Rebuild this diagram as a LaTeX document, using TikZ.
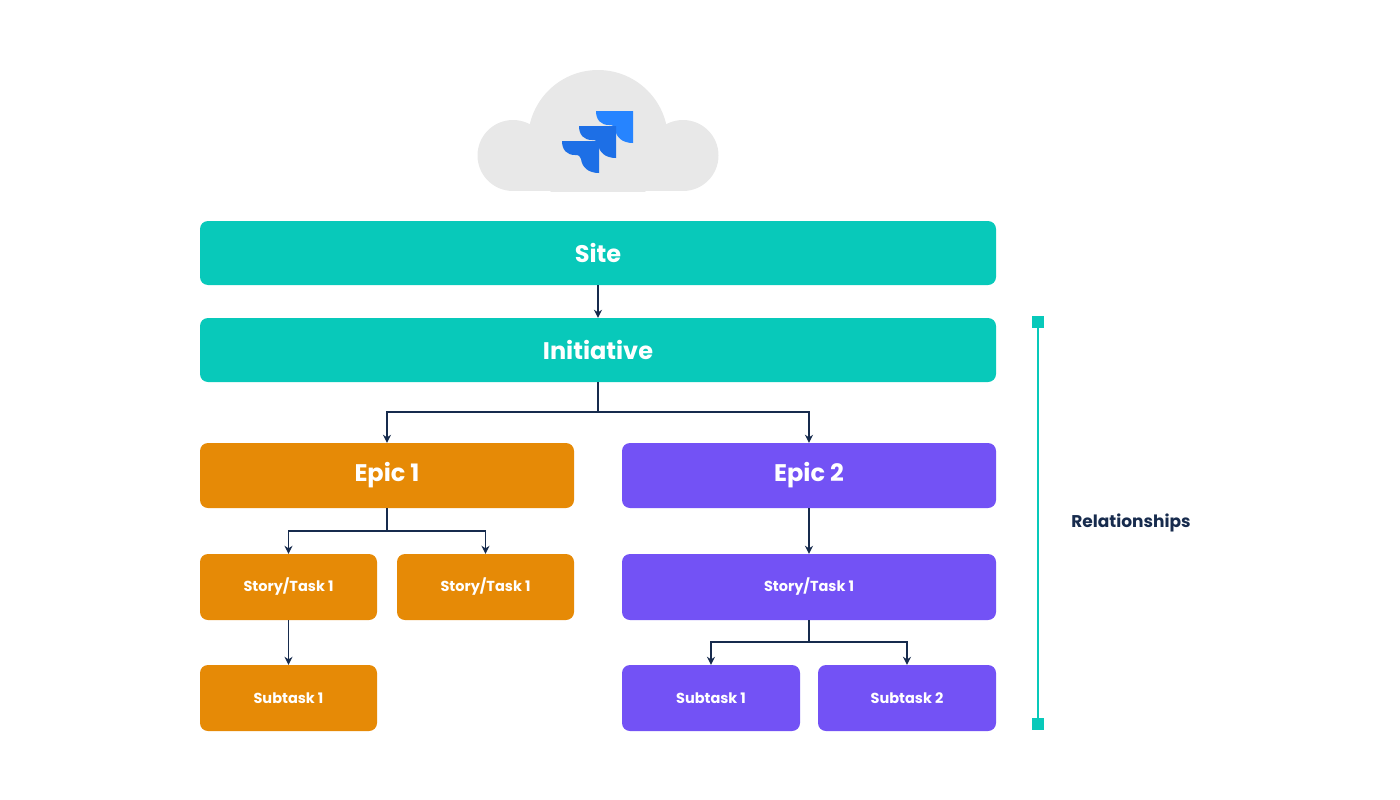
\documentclass[tikz,border=0pt]{standalone}
\usepackage{fontspec}
\setmainfont{Poppins}
\usetikzlibrary{arrows.meta}
\begin{document}
\begin{tikzpicture}[x=1pt,y=-1pt,
 box/.style={rounded corners=8pt,inner sep=0pt,text=white,font=\bfseries},
 big/.style={font=\fontsize{24}{28}\selectfont\bfseries},
 small/.style={font=\fontsize{14.5}{17}\selectfont\bfseries},
 arr/.style={draw=navy,line width=1.5pt,-{Stealth[length=8pt,width=8pt]}}]
\definecolor{teal}{HTML}{08C9BA}
\definecolor{orng}{HTML}{E68A06}
\definecolor{purp}{HTML}{7352F5}
\definecolor{navy}{HTML}{172B4D}
\definecolor{cloud}{HTML}{E8E8E8}
\useasboundingbox (0,0) rectangle (1400,800);
% cloud
\begin{scope}
\clip (400,0) rectangle (800,191);
\fill[cloud] (513,125) rectangle (683,191);
\fill[cloud] (513,155.5) circle (35.5);
\fill[cloud] (683,155.5) circle (35.5);
\fill[cloud] (598,140) circle (70);
\end{scope}
% logo
\def\piece#1#2#3{\fill[#3] (#1,#2) -- (#1+37,#2) -- (#1+37,#2+32) .. controls (#1+26,#2+32) and (#1+20,#2+26) .. (#1+19,#2+18) .. controls (#1+18,#2+15) and (#1+17,#2+14) .. (#1+13,#2+14) .. controls (#1+5,#2+14) and (#1,#2+9) .. (#1,#2) -- cycle;}
\definecolor{b1}{HTML}{2684FF}
\definecolor{b2}{HTML}{1D6FE6}
\piece{596}{111}{b1}
\piece{579}{126}{b2}
\piece{562}{141}{b2}
% boxes
\node[box,big,fill=teal,minimum width=796pt,minimum height=64pt] (site) at (598,253) {Site};
\node[box,big,fill=teal,minimum width=796pt,minimum height=64pt] (init) at (598,350) {Initiative};
\node[box,big,fill=orng,minimum width=374pt,minimum height=65pt] (e1) at (387,475.5) {Epic 1};
\node[box,big,fill=purp,minimum width=374pt,minimum height=65pt] (e2) at (809,475.5) {Epic 2};
\node[box,small,fill=orng,minimum width=177pt,minimum height=66pt] (s1) at (288.5,587) {Story/Task 1};
\node[box,small,fill=orng,minimum width=177pt,minimum height=66pt] (s2) at (485.5,587) {Story/Task 1};
\node[box,small,fill=purp,minimum width=374pt,minimum height=66pt] (s3) at (809,587) {Story/Task 1};
\node[box,small,fill=orng,minimum width=177pt,minimum height=66pt] (t1) at (288.5,698) {Subtask 1};
\node[box,small,fill=purp,minimum width=178pt,minimum height=66pt] (t2) at (711,698) {Subtask 1};
\node[box,small,fill=purp,minimum width=178pt,minimum height=66pt] (t3) at (907,698) {Subtask 2};
% connectors
\draw[arr] (site) -- (init);
\draw[arr] (init.south) -- ++(0,30) -| (e1.north);
\draw[arr] (init.south) -- ++(0,30) -| (e2.north);
\draw[arr] (e1.south) -- ++(0,23) -| (s1.north);
\draw[arr] (e1.south) -- ++(0,23) -| (s2.north);
\draw[arr] (e2) -- (s3);
\draw[arr] (s1) -- (t1);
\draw[arr] (s3.south) -- ++(0,22) -| (t2.north);
\draw[arr] (s3.south) -- ++(0,22) -| (t3.north);
% bracket
\coordinate (bt) at (1038,322);
\coordinate (bb) at (1038,724);
\draw[teal,line width=1.8pt] (bt) -- (bb);
\fill[teal] (1032,316) rectangle (1044,328);
\fill[teal] (1032,718) rectangle (1044,730);
\node[text=navy,font=\fontsize{17}{20}\selectfont\bfseries] (rel) at (1131,523) {Relationships};
\end{tikzpicture}
\end{document}
